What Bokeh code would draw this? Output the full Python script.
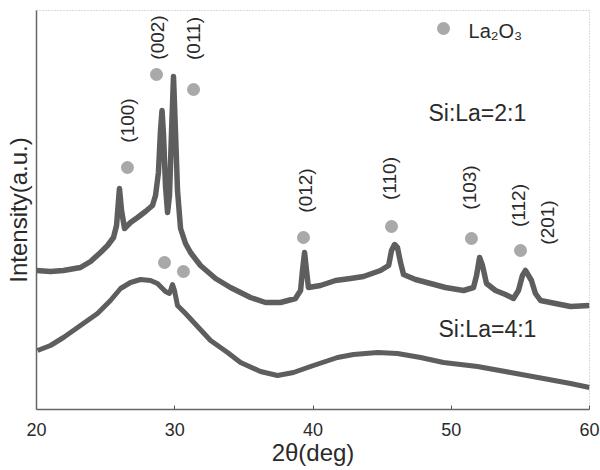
import math
from bokeh.plotting import figure
from bokeh.models import Range1d, FixedTicker, ColumnDataSource
from bokeh.core.properties import value
from bokeh.embed import file_html
from bokeh.resources import INLINE

# ---- data ----
# Si:La = 2:1 trace
x_21 = [20.00, 21.01, 21.95, 23.18, 23.91, 24.63, 25.14, 25.57, 25.79, 26.00, 26.15, 26.37,
        26.80, 27.31, 27.88, 28.39, 28.61, 28.82, 28.97, 29.08, 29.19, 29.33, 29.48, 29.62,
        29.77, 29.91, 30.05, 30.20, 30.42, 30.78, 31.14, 31.86, 32.95, 34.03, 35.48, 36.56,
        37.65, 38.73, 39.10, 39.24, 39.39, 39.53, 39.67, 40.54, 41.63, 42.71, 43.65, 44.88,
        45.47, 45.68, 45.90, 46.11, 46.33, 46.55, 47.41, 48.50, 49.58, 50.89, 51.61, 51.83,
        52.05, 52.26, 52.55, 53.20, 53.92, 54.50, 54.86, 55.15, 55.37, 55.59, 55.80, 56.09,
        56.46, 57.54, 58.63, 60.00]
y_21 = [139, 138, 139, 142, 148, 157, 164, 172, 184, 221, 199, 181,
        187, 192, 198, 204, 214, 237, 279, 299, 274, 224, 197, 214,
        279, 333, 279, 219, 181, 166, 157, 144, 131, 122, 112, 107,
        107, 111, 119, 139, 157, 139, 122, 124, 129, 131, 133, 139,
        144, 159, 165, 162, 147, 135, 130, 126, 122, 119, 122, 134,
        152, 144, 126, 119, 115, 111, 119, 134, 139, 134, 129, 116,
        109, 106, 103, 104]

# Si:La = 4:1 trace
x_41 = [20.07, 21.01, 21.95, 23.18, 24.41, 25.35, 26.08, 26.80, 27.52, 28.25, 28.75, 29.33,
        29.62, 29.84, 29.98, 30.20, 30.78, 31.65, 32.59, 33.82, 34.76, 36.20, 37.43, 38.59,
        39.82, 41.77, 42.93, 44.67, 46.11, 47.78, 49.44, 51.90, 54.29, 56.67, 58.63, 60.00]
y_41 = [59, 64, 72, 84, 96, 109, 121, 127, 130, 129, 126, 118,
        116, 125, 119, 104, 96, 83, 69, 57, 47, 38, 34, 37,
        43, 52, 55, 57, 56, 52, 47, 43, 37, 31, 26, 22]

# La2O3 reflection markers
peak_x = [26.58, 28.68, 31.36, 39.31, 45.68, 51.46, 55.01, 29.26, 30.63]
peak_y = [242, 335, 320, 172, 183, 171, 159, 147, 138]

# hkl labels
hkl_text = ["(100)", "(002)", "(011)", "(012)", "(110)", "(103)", "(112)", "(201)"]
hkl_x = [26.58, 28.75, 31.36, 39.46, 45.53, 51.32, 54.86, 56.96]
hkl_y = [289, 372, 371, 219, 231, 222, 204, 187]

x_ticks = [20, 30, 40, 50, 60]

FONT = "Liberation Sans"
TXT = "#2a2a2a"
LINE = "#5e5e5e"
DOT = "#a9a9a9"

p = figure(width=600, height=470, output_backend="svg", toolbar_location=None,
           x_range=Range1d(20, 60), y_range=Range1d(0, 399),
           min_border_left=36, min_border_right=11, min_border_top=10, min_border_bottom=61)

p.background_fill_color = "white"
p.border_fill_color = "white"
p.grid.visible = False
p.outline_line_color = "#b5b5b5"
p.outline_line_dash = "1 2"
p.outline_line_width = 1

p.line(x_21, y_21, line_color=LINE, line_width=5.5, line_join="round")
p.line(x_41, y_41, line_color=LINE, line_width=5, line_join="round")

p.scatter(peak_x, peak_y, size=13, fill_color=DOT, line_color=None, marker="circle")

src = ColumnDataSource(dict(x=hkl_x, y=hkl_y, t=hkl_text))
p.text(x="x", y="y", text="t", source=src, angle=math.pi / 2,
       text_font=value(FONT), text_font_size="19px", text_color=TXT,
       text_align="center", text_baseline="middle")

# legend
p.scatter([49.44], [381], size=13, fill_color=DOT, line_color=None, marker="circle")
p.text([51.25], [379], text=["La₂O₃"], text_font=value(FONT), text_font_size="20px",
       text_color=TXT, text_align="left", text_baseline="middle")

p.text([48.35], [297], text=["Si:La=2:1"], text_font=value(FONT), text_font_size="23px",
       text_color=TXT, text_align="left", text_baseline="middle")
p.text([49.08], [81], text=["Si:La=4:1"], text_font=value(FONT), text_font_size="23px",
       text_color=TXT, text_align="left", text_baseline="middle")

# axes
xa = p.xaxis[0]
xa.ticker = FixedTicker(ticks=x_ticks)
xa.minor_tick_line_color = None
xa.major_tick_in = 4
xa.major_tick_out = 0
xa.major_tick_line_color = "#555555"
xa.axis_line_color = "#666666"
xa.axis_line_width = 1.5
xa.major_label_text_font = FONT
xa.major_label_text_font_size = "18px"
xa.major_label_text_color = TXT
xa.major_label_standoff = 13
xa.axis_label = "2θ(deg)"
xa.axis_label_text_font = FONT
xa.axis_label_text_font_size = "24px"
xa.axis_label_text_font_style = "normal"
xa.axis_label_text_color = TXT
xa.axis_label_standoff = 0

ya = p.yaxis[0]
ya.ticker = FixedTicker(ticks=[])
ya.minor_tick_line_color = None
ya.major_tick_in = 0
ya.major_tick_out = 0
ya.axis_line_color = "#666666"
ya.axis_line_width = 1.5
ya.axis_label = "Intensity(a.u.)"
ya.axis_label_text_font = FONT
ya.axis_label_text_font_size = "24px"
ya.axis_label_text_font_style = "normal"
ya.axis_label_text_color = TXT
ya.axis_label_standoff = 5

open("out.html", "w").write(file_html(p, INLINE))
